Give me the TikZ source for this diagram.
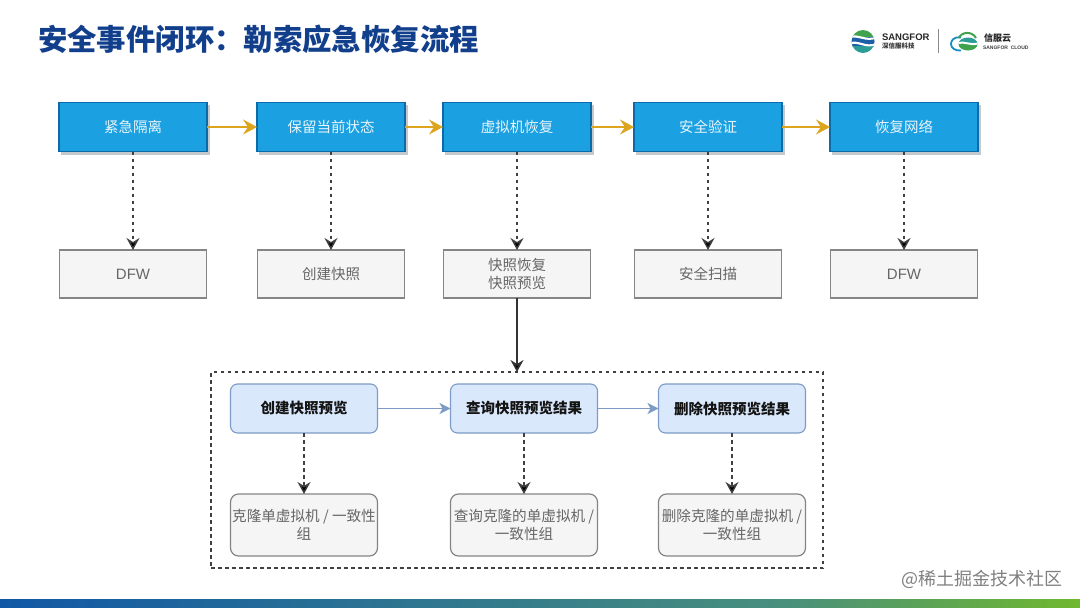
\documentclass[tikz,border=0pt]{standalone}
\usepackage{fontspec}
\setmainfont{Noto Sans CJK SC}
\setsansfont{Liberation Sans}
\usetikzlibrary{arrows.meta,calc,positioning}
\definecolor{titleblue}{HTML}{123F8C}
\definecolor{flowfill}{HTML}{1BA1E2}
\definecolor{flowdraw}{HTML}{0A6BA8}
\definecolor{flowtext}{HTML}{E8F4FB}
\definecolor{goldline}{HTML}{DDA51E}
\definecolor{grayfill}{HTML}{F5F5F5}
\definecolor{graydraw}{HTML}{858585}
\definecolor{graytext}{HTML}{666666}
\definecolor{bluefill}{HTML}{DAE8FC}
\definecolor{bluedraw}{HTML}{7D9BC6}
\definecolor{shadowgray}{HTML}{C4C9CD}
\definecolor{logogreen}{HTML}{3FA34D}
\definecolor{logoblue}{HTML}{1C5FA8}
\definecolor{logoteal}{HTML}{2E9C96}
\tikzset{
 x=1pt,y=-1pt,
 px/.style={inner sep=0pt,outer sep=0pt},
 flowbox/.style={px,draw=flowdraw,line width=1.6pt,fill=flowfill,text=flowtext,font=\fontsize{14.5}{17}\selectfont,minimum width=148pt,minimum height=49pt,align=center},
 shadowbox/.style={px,fill=shadowgray,minimum width=149pt,minimum height=50pt},
 detailbox/.style={px,draw=graydraw,line width=1.1pt,fill=grayfill,text=graytext,font=\fontsize{14.5}{18.5}\selectfont,minimum width=147pt,minimum height=48pt,align=center},
 apibox/.style={px,draw=bluedraw,line width=1.1pt,fill=bluefill,rounded corners=7pt,font=\bfseries\fontsize{14.5}{17}\selectfont,text=black!92,minimum width=147pt,minimum height=49pt,align=center},
 resultbox/.style={px,draw=graydraw,line width=1.2pt,fill=grayfill,rounded corners=8pt,text=graytext,font=\fontsize{14.6}{18.5}\selectfont,minimum width=147pt,minimum height=62pt,align=center},
 goldarrow/.style={draw=goldline,line width=2.6pt,-{Stealth[length=14pt,width=15pt,inset=5pt]}},
 bluearrow/.style={draw=bluedraw,line width=1.5pt,-{Stealth[length=11pt,width=11pt,inset=3pt,fill=bluedraw]}},
 dasharrow/.style={draw=black!75,line width=1.4pt,dash pattern=on 3.5pt off 3.5pt,-{Stealth[length=12pt,width=13pt,inset=4pt,fill=black]}},
 solidarrow/.style={draw=black!80,line width=1.6pt,-{Stealth[length=12pt,width=13pt,inset=4pt,fill=black]}},
 frame/.style={px,draw=black!75,line width=1.4pt,dash pattern=on 3.5pt off 3.5pt},
 plainlabel/.style={px,anchor=west}
}
\begin{document}
\begin{tikzpicture}
\useasboundingbox (0,0) rectangle (1080,608);
\fill[white] (0,0) rectangle (1080,608);
% bottom bar
\shade[left color={rgb,255:red,17;green,88;blue,166},right color={rgb,255:red,72;green,143;blue,125}] (0,599) rectangle (780.5,608);
\shade[left color={rgb,255:red,72;green,143;blue,125},right color={rgb,255:red,112;green,184;blue,46}] (780,599) rectangle (1080,608);
% title
\node[plainlabel,text=titleblue,font=\bfseries\fontsize{29.4}{32}\selectfont] (title) at (38,39) {安全事件闭环：勒索应急恢复流程};
% sangfor mark
\begin{scope}
 \clip (863,41.5) circle (11.5);
 \fill[logogreen] (850,29) rectangle (876,39);
 \fill[logoblue] (850,37) rectangle (876,47);
 \fill[logoteal] (850,46) rectangle (876,54);
 \fill[white] (850,36.5) .. controls (858,32.5) and (866,41) .. (876,36.5) -- (876,38.5) .. controls (866,43) and (858,35) .. (850,38.5) -- cycle;
 \fill[white] (850,42.5) .. controls (858,39) and (866,47.5) .. (876,43) -- (876,45) .. controls (866,49.5) and (858,41.5) .. (850,44.5) -- cycle;
\end{scope}
\node[plainlabel,font=\sffamily\bfseries\fontsize{9.5}{10}\selectfont,text=black!85] (sf) at (882,37) {SANGFOR};
\node[plainlabel,font=\bfseries\fontsize{6.5}{7}\selectfont,text=black!80] (sfcn) at (882,46.5) {深信服科技};
\draw[black!45,line width=.9pt] (938,29) -- (938,53);
% cloud mark
\draw[logoblue!70!cyan,line width=1.8pt] (961,37.5) .. controls (953,36.5) and (951,41) .. (951,44) .. controls (951,48) and (955,51) .. (961,50.5);
\draw[logogreen,line width=2pt] (959,38) .. controls (961,32) and (972,30.5) .. (976,38);
\begin{scope}
 \clip (968,44) ellipse (9.5 and 6.5);
 \fill[logoteal] (958,37) rectangle (978,44);
 \fill[logogreen] (958,44) rectangle (978,52);
 \fill[white] (958,42) .. controls (964,40) and (972,45) .. (978,42.5) -- (978,44.5) .. controls (972,47) and (964,42) .. (958,44) -- cycle;
\end{scope}
\node[plainlabel,font=\bfseries\fontsize{9}{10}\selectfont,text=black!85] (xfy) at (984,38) {信服云};
\node[plainlabel,font=\sffamily\bfseries\fontsize{5}{6}\selectfont,text=black!75] (sc) at (983,48) {SANGFOR\ \ CLOUD};
% shadows
\foreach \n/\x in {a/133,b/331,c/517,d/708,e/904}{
 \node[shadowbox] (sh\n) at (\x+2.5,129.5) {};
}
% top row
\node[flowbox] (a) at (133,127) {紧急隔离};
\node[flowbox] (b) at (331,127) {保留当前状态};
\node[flowbox] (c) at (517,127) {虚拟机恢复};
\node[flowbox] (d) at (708,127) {安全验证};
\node[flowbox] (e) at (904,127) {恢复网络};
% second row
\node[detailbox] (a2) at (133,274) {\sffamily\fontsize{15}{18}\selectfont DFW};
\node[detailbox] (b2) at (331,274) {创建快照};
\node[detailbox] (c2) at (517,274) {快照恢复\\快照预览};
\node[detailbox] (d2) at (708,274) {安全扫描};
\node[detailbox] (e2) at (904,274) {\sffamily\fontsize{15}{18}\selectfont DFW};
% frame
\node[frame,minimum width=612pt,minimum height=196pt] (fr) at (517,470) {};
% api row
\node[apibox] (p) at (304,408.5) {创建快照预览};
\node[apibox] (q) at (524,408.5) {查询快照预览结果};
\node[apibox] (r) at (732,408.5) {删除快照预览结果};
% results
\node[resultbox] (p2) at (304,525) {克隆单虚拟机 / 一致性\\组};
\node[resultbox] (q2) at (524,525) {查询克隆的单虚拟机 /\\一致性组};
\node[resultbox] (r2) at (732,525) {删除克隆的单虚拟机 /\\一致性组};
% connectors
\draw[goldarrow] (a) -- (b);
\draw[goldarrow] (b) -- (c);
\draw[goldarrow] (c) -- (d);
\draw[goldarrow] (d) -- (e);
\foreach \u/\v in {a/a2,b/b2,c/c2,d/d2,e/e2,p/p2,q/q2,r/r2}{
 \draw[dasharrow] (\u) -- (\v);
}
\draw[solidarrow] (c2.south) -- (c2.south |- fr.north);
\draw[bluearrow] (p) -- (q);
\draw[bluearrow] (q) -- (r);
% watermark
\node[plainlabel,text=black!50,font=\fontsize{18}{20}\selectfont] (wm) at (901,579) {@稀土掘金技术社区};
\end{tikzpicture}
\end{document}
